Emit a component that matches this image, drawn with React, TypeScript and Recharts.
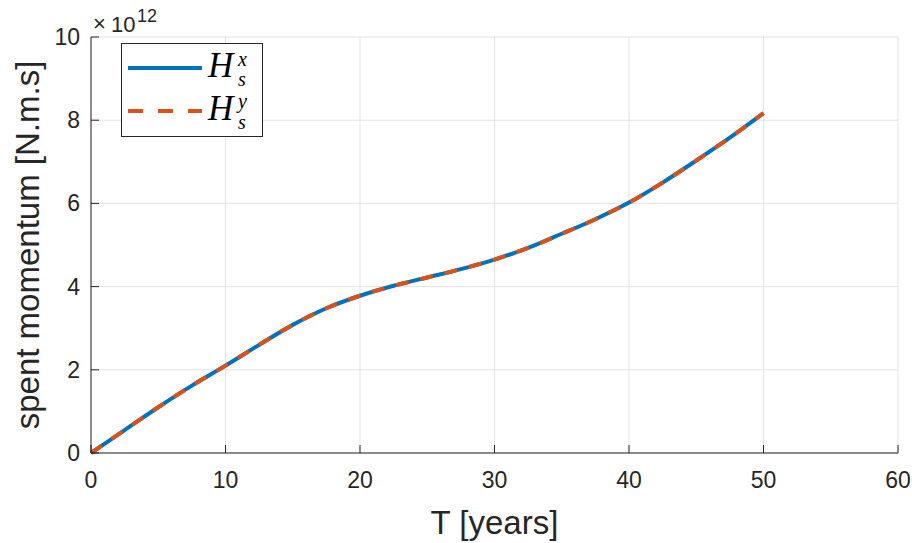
import React from 'react';
import { LineChart, Line, XAxis, YAxis, CartesianGrid, Customized } from 'recharts';

const years = [0, 2.5, 5, 7.5, 10, 12.5, 15, 17.5, 20, 22.5, 25, 27.5, 30, 32.5, 35, 37.5, 40, 42.5, 45, 47.5, 50];
const hxValues = [0, 0.55, 1.1, 1.62, 2.1, 2.6, 3.08, 3.48, 3.78, 4.02, 4.22, 4.42, 4.65, 4.93, 5.27, 5.62, 6.02, 6.5, 7.03, 7.58, 8.17];
const hyValues = [0, 0.55, 1.1, 1.62, 2.1, 2.6, 3.08, 3.48, 3.78, 4.02, 4.22, 4.42, 4.65, 4.93, 5.27, 5.62, 6.02, 6.5, 7.03, 7.58, 8.17];
const xTicks = [0, 10, 20, 30, 40, 50, 60];
const yTicks = [0, 2, 4, 6, 8, 10];

const data = years.map((t, i) => ({ t, hx: hxValues[i], hy: hyValues[i] }));

const TEXT = '#262626';
const FONT = '"Liberation Sans", Arial, Helvetica, sans-serif';

const XTick = (props: any) => {
  const { x, y, payload } = props;
  return (
    <g>
      <line x1={x} x2={x} y1={y} y2={y - 8} stroke={TEXT} strokeWidth={1} />
      <text x={x} y={y + 35} textAnchor="middle" fontSize={23} fontFamily={FONT} fill={TEXT}>
        {payload.value}
      </text>
    </g>
  );
};

const YTick = (props: any) => {
  const { x, y, payload } = props;
  return (
    <g>
      <line x1={x} x2={x + 8} y1={y} y2={y} stroke={TEXT} strokeWidth={1} />
      <text x={x - 11} y={y + 8} textAnchor="end" fontSize={23} fontFamily={FONT} fill={TEXT}>
        {payload.value}
      </text>
    </g>
  );
};

const LegendBox = () => (
  <g transform="translate(121,43)">
    <rect x={0.5} y={0.5} width={141} height={93} fill="#fff" stroke="#262626" strokeWidth={1} />
    <line x1={7} x2={81} y1={25} y2={25} stroke="#0072BD" strokeWidth={4} />
    <line x1={7} x2={81} y1={68} y2={68} stroke="#D95319" strokeWidth={4} strokeDasharray="15 15" />
    <g fontFamily='"Liberation Serif", "DejaVu Serif", serif' fontStyle="italic" fill="#000">
      <text x={87} y={34} fontSize={35}>H</text>
      <text x={117} y={23} fontSize={20}>x</text>
      <text x={117} y={43} fontSize={20}>s</text>
      <text x={87} y={77} fontSize={35}>H</text>
      <text x={117} y={65} fontSize={20}>y</text>
      <text x={117} y={86} fontSize={20}>s</text>
    </g>
  </g>
);

const Exponent = () => (
  <g fontFamily={FONT} fill={TEXT}>
    <text x={93} y={31} fontSize={22}>×</text>
    <text x={111} y={32} fontSize={22}>10</text>
    <text x={137} y={22} fontSize={18}>12</text>
  </g>
);

export default function App() {
  return (
    <div style={{ position: 'absolute', left: 0, top: 0, width: 912, height: 543, background: '#fff' }}>
      <LineChart
        width={912}
        height={543}
        data={data}
        margin={{ top: 37, right: 14, bottom: 30, left: 0 }}
      >
        <CartesianGrid stroke="#e3e3e3" strokeWidth={1} />
        <XAxis
          dataKey="t"
          type="number"
          domain={[0, 60]}
          ticks={xTicks}
          height={60}
          tickSize={0}
          tickMargin={0}
          tick={<XTick />}
          axisLine={{ stroke: TEXT, strokeWidth: 1 }}
          tickLine={false}
          label={{ value: 'T [years]', position: 'insideBottom', offset: -21, fontSize: 33, fontFamily: FONT, fill: TEXT }}
        />
        <YAxis
          type="number"
          domain={[0, 10]}
          ticks={yTicks}
          width={91}
          tickSize={0}
          tickMargin={0}
          tick={<YTick />}
          axisLine={{ stroke: TEXT, strokeWidth: 1 }}
          tickLine={false}
          label={{ value: 'spent momentum [N.m.s]', angle: -90, position: 'insideLeft', offset: 0, dx: 27, fontSize: 33, fontFamily: FONT, fill: TEXT, style: { textAnchor: 'middle' } }}
        />
        <Line type="monotone" dataKey="hx" stroke="#0072BD" strokeWidth={4} dot={false} isAnimationActive={false} name="Hx" />
        <Line type="monotone" dataKey="hy" stroke="#D95319" strokeWidth={4} strokeDasharray="13 12" dot={false} isAnimationActive={false} name="Hy" />
        <Customized component={LegendBox} />
        <Customized component={Exponent} />
      </LineChart>
    </div>
  );
}
